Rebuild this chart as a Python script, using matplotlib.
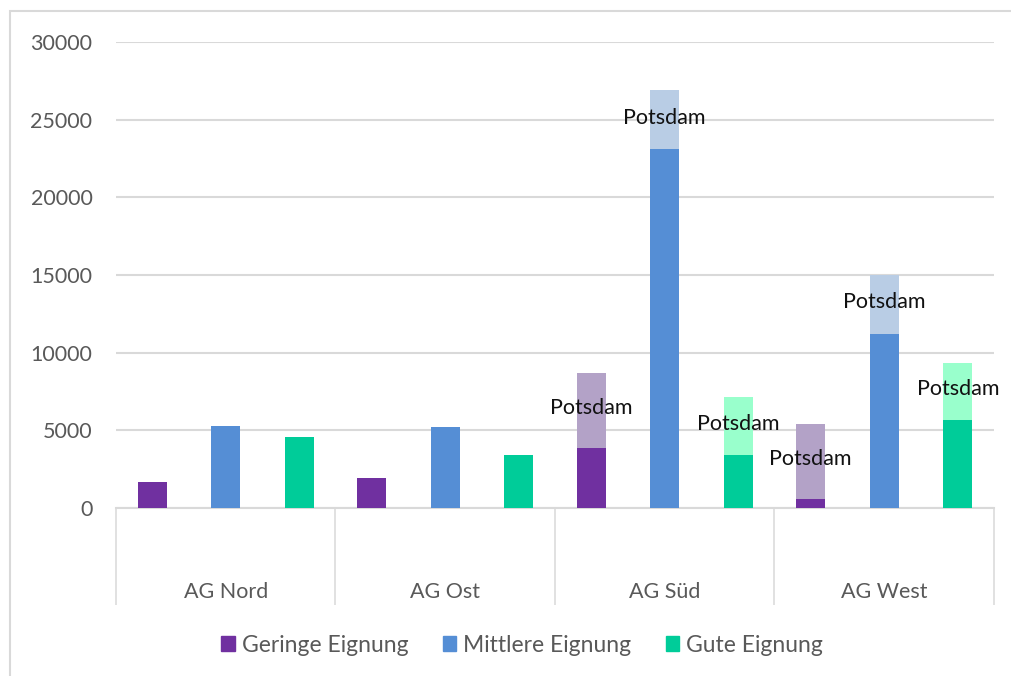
import matplotlib.pyplot as plt
import numpy as np
from matplotlib.patches import Patch, Rectangle

plt.rcParams['font.family'] = ['Lato', 'DejaVu Sans']

groups = ['AG Nord', 'AG Ost', 'AG Süd', 'AG West']
series = ['Geringe Eignung', 'Mittlere Eignung', 'Gute Eignung']

# base values (ohne Potsdam)
geringe = [1700, 1950, 3850, 600]
mittlere = [5300, 5230, 23080, 11200]
gute = [4550, 3420, 3420, 5680]

# Potsdam-Anteil obendrauf
geringe_potsdam = [0, 0, 4820, 4800]
mittlere_potsdam = [0, 0, 3800, 3770]
gute_potsdam = [0, 0, 3700, 3680]

dark = ['#7030A0', '#558ED5', '#00CC99']
light = ['#B3A2C7', '#B9CDE5', '#99FFCC']
grid_col = '#D9D9D9'
text_col = '#595959'
fs = 15.5

fig = plt.figure(figsize=(10.12, 6.76), dpi=100)
W, H = 1012, 676
ax = fig.add_axes([116 / W, (H - 508) / H, (994 - 116) / W, (508 - 42) / H])

x = np.arange(len(groups))
offsets = [-0.335, 0, 0.335]
width = 0.133
base = [geringe, mittlere, gute]
extra = [geringe_potsdam, mittlere_potsdam, gute_potsdam]

for i in range(3):
    xi = x + offsets[i]
    ax.bar(xi, base[i], width, color=dark[i], zorder=3)
    ax.bar(xi, extra[i], width, bottom=base[i], color=light[i], zorder=3)
    for j in range(len(groups)):
        if extra[i][j] > 0:
            ax.text(xi[j], base[i][j] + extra[i][j] / 2 + 150, 'Potsdam',
                    ha='center', va='center', fontsize=fs, color='#111111', zorder=4)

ax.set_ylim(0, 30000)
ax.set_xlim(-0.5, 3.5)
ax.set_yticks(np.arange(0, 30001, 5000))
ax.yaxis.grid(True, color=grid_col, linewidth=1.5, zorder=0)
ax.tick_params(axis='y', length=0, pad=17, labelsize=fs, labelcolor=text_col)

# category separators as major ticks, labels as minor ticks
ax.set_xticks(np.arange(-0.5, 4, 1))
ax.set_xticklabels([])
ax.tick_params(axis='x', which='major', length=70, width=1.1, color=grid_col, direction='out')
ax.set_xticks(x, minor=True)
ax.set_xticklabels(groups, minor=True)
ax.tick_params(axis='x', which='minor', length=0, pad=53, labelsize=fs, labelcolor=text_col)

for s in ['top', 'right', 'left']:
    ax.spines[s].set_visible(False)
ax.spines['bottom'].set_color(grid_col)
ax.spines['bottom'].set_linewidth(1.5)

handles = [Patch(color=c) for c in dark]
fig.legend(handles, series, loc='center', bbox_to_anchor=(522 / W, 1 - 645 / H), ncol=3,
           frameon=False, fontsize=16.5, labelcolor=text_col, handlelength=0.6, handleheight=0.6,
           handletextpad=0.3, columnspacing=1.5)

# chart border (top and left visible)
fig.patches.append(Rectangle((10 / W, -0.1), 1.2, 1 - 11 / H + 0.1, transform=fig.transFigure,
                             fill=False, edgecolor=grid_col, linewidth=1.5))

fig.savefig('out.png', dpi=100)
